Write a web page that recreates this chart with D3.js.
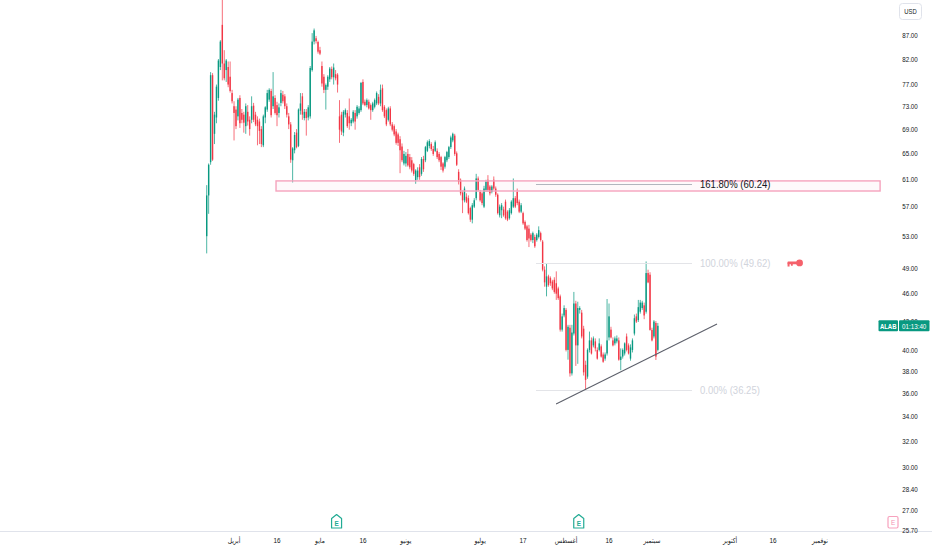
<!DOCTYPE html>
<html><head><meta charset="utf-8">
<script src="https://cdn.jsdelivr.net/npm/d3@7/dist/d3.min.js"></script>
<style>
html,body{margin:0;padding:0;background:#fff;}
svg{display:block;}
</style></head><body>
<svg id="c" width="932" height="550"></svg>
<script>
// ALAB 4h candles, [open, high, low, close]; two bars per trading day
const marchBars = [
[53.0,60.1,50.8,58.6],[58.6,63.4,56.0,63.2],[63.6,79.4,63.2,78.8],[78.8,79.2,63.8,64.0],
[68.2,72.0,66.5,71.5],[71.0,77.0,70.0,76.6],[74.5,82.0,74.0,81.7],[80.4,85.9,79.8,85.6],
[89.2,95.2,77.8,81.1],[81.1,83.8,77.8,78.2],[79.8,82.0,77.5,81.7],[80.4,81.5,76.5,77.0],
[78.5,81.5,75.5,75.8],[75.4,76.0,73.5,73.9]];
const aprilBars = [
[73.0,73.9,67.1,71.8],[72.4,73.0,69.0,69.5],[71.2,74.5,70.5,74.2],[74.5,75.0,69.2,70.0],
[71.8,72.5,70.0,70.6],[71.5,72.0,68.4,70.1],[69.5,73.5,68.2,73.0],[72.0,73.2,69.6,70.3],
[70.6,71.2,67.9,69.0],[70.6,74.8,70.0,73.0],[73.1,73.6,70.2,70.6],[71.5,72.0,69.5,69.8],
[70.6,71.2,66.3,69.5],[70.3,70.8,66.5,68.7],[69.0,69.5,66.0,66.5],[66.3,71.5,66.0,71.2],
[71.0,73.0,70.0,72.8],[72.4,76.0,72.0,75.4],[74.2,76.3,73.8,76.0],[75.8,76.2,71.0,71.4],
[73.0,79.4,72.5,74.8],[74.5,75.0,71.5,71.8],[73.2,73.8,69.5,71.4],[71.8,73.5,71.0,72.8],
[73.6,76.0,73.0,75.4],[75.1,75.8,73.5,73.9],[74.8,75.2,72.5,73.0],[73.0,73.5,71.0,71.5],
[71.2,71.8,69.0,69.8],[69.8,70.2,63.5,64.0],[63.9,66.0,60.5,65.8],[65.5,68.5,65.0,68.0],
[68.4,69.0,65.8,66.0],[66.2,72.6,66.0,72.4],[72.2,75.4,71.5,73.5],[74.8,75.4,70.6,71.5],
[70.9,72.5,70.5,72.0],[72.0,72.5,67.9,70.9],[71.0,73.2,70.5,72.8],[71.2,80.6,70.8,80.2],
[79.8,87.4,79.5,85.6],[85.6,88.4,85.0,88.0],[86.3,86.8,85.2,85.7],[85.5,85.8,83.1,83.5]];
const mayBars = [
[83.8,84.5,82.8,83.1],[80.6,81.5,76.6,77.2],[78.5,79.0,75.4,76.0],[76.0,77.2,72.4,76.9],
[76.6,78.8,76.0,78.5],[78.0,80.4,77.5,80.1],[80.0,80.5,78.0,78.4],[78.4,81.1,77.0,80.3],
[79.0,79.8,77.8,78.2],[78.9,79.2,75.5,77.0],[71.2,74.1,66.7,68.9],[71.5,72.0,68.0,68.6],
[68.4,72.3,67.8,72.0],[71.5,72.6,71.0,72.3],[71.8,72.3,69.2,69.5],[71.2,74.4,68.9,70.0],
[70.0,70.9,69.5,70.6],[70.3,72.3,70.0,72.0],[71.8,72.3,68.9,70.3],[71.2,73.2,70.8,72.9],
[71.8,73.0,71.5,72.6],[72.3,77.5,72.0,77.3],[77.5,78.0,73.2,73.5],[73.8,74.2,73.0,73.2],
[73.2,74.4,72.8,74.1],[73.8,74.2,72.4,72.6],[73.2,73.5,70.6,72.3],[72.3,73.8,72.0,73.5],
[72.9,74.4,72.6,74.1],[73.5,75.7,73.2,75.4],[74.7,75.2,73.2,73.5],[73.5,77.0,73.0,76.0],
[76.3,77.0,72.0,72.3],[72.9,73.2,70.9,71.2],[72.3,72.6,69.5,69.8],[70.6,72.9,70.3,72.6],
[72.6,73.0,69.5,69.8],[69.8,70.2,68.6,68.9],[69.5,69.8,67.8,68.1],[68.6,69.0,66.4,66.7],
[68.1,68.4,66.2,66.7],[67.3,67.8,61.9,65.5],[66.1,66.6,63.6,63.9],[63.4,65.4,63.1,64.9]];
const juneBars = [
[63.4,65.2,62.9,64.6],[64.9,65.7,62.9,63.1],[64.4,64.9,62.5,62.8],[63.9,64.4,62.0,62.3],
[63.3,63.5,61.5,61.8],[60.8,62.5,60.3,62.3],[61.3,62.8,60.9,62.3],[62.8,63.3,60.9,61.3],
[61.8,64.4,61.5,64.1],[64.1,64.6,62.1,62.5],[63.9,66.2,63.6,66.0],[65.4,67.1,65.2,66.8],
[66.2,67.3,65.8,67.0],[66.5,66.8,65.4,65.7],[65.7,66.2,64.6,64.9],[65.4,67.1,65.2,66.8],
[65.4,65.8,64.1,64.4],[64.9,65.2,63.6,63.9],[64.4,64.6,62.4,62.9],[63.4,63.6,62.0,62.3],
[62.9,64.6,62.6,64.4],[63.9,65.4,63.6,65.2],[64.4,66.2,64.1,66.0],[66.0,67.9,65.7,67.6],
[67.1,68.4,66.8,68.2],[67.9,68.2,64.6,64.9],[65.0,65.3,63.0,63.2],[62.1,62.5,60.2,60.6],
[60.9,61.1,58.6,58.9],[59.0,59.3,56.1,57.9],[57.9,59.9,57.6,59.6],[58.4,58.9,57.5,57.7],
[58.2,58.6,55.9,56.1],[56.8,57.0,54.9,55.2],[55.2,57.5,54.7,57.2],[57.0,58.2,56.8,57.9],
[58.2,61.8,57.9,61.1],[61.1,61.4,59.2,59.4]];
const julyBars = [
[59.1,59.4,57.7,57.9],[58.9,59.1,57.2,57.5],[57.0,60.0,56.8,59.6],[59.4,60.9,59.1,60.6],
[60.9,61.6,59.1,59.4],[59.9,60.1,58.6,58.9],[59.1,60.1,58.9,59.9],[60.9,61.4,59.4,59.6],
[59.6,59.9,58.4,58.7],[58.7,58.9,55.9,56.1],[55.8,57.3,55.5,57.0],[56.5,57.5,55.4,57.2],
[56.6,57.0,55.6,55.8],[57.7,58.0,55.2,55.4],[56.3,56.5,55.0,55.2],[55.4,56.8,55.2,56.5],
[56.1,57.9,55.9,57.7],[57.0,61.1,56.8,58.2],[58.2,58.5,56.8,57.0],[59.1,59.6,57.2,57.5],
[57.7,58.0,56.1,56.3],[56.3,57.5,56.1,57.2],[56.1,56.3,54.5,54.7],[54.9,55.1,53.8,54.0],
[54.3,54.5,52.3,52.5],[54.0,54.5,51.6,52.7],[53.2,53.4,52.3,52.5],[52.5,53.6,52.1,53.4],
[52.9,53.2,51.5,51.7],[52.5,53.4,52.3,53.2],[52.9,54.3,52.7,53.8],[53.4,53.6,52.3,52.5],
[52.3,52.5,48.6,48.8],[48.8,49.2,46.8,47.3],[46.8,49.6,45.7,48.0],[48.0,48.2,46.8,47.0],
[47.8,48.0,46.9,47.2],[47.4,47.6,46.4,46.6],[47.6,47.9,46.0,46.2],[47.2,48.6,45.3,46.0],
[46.6,46.8,45.3,45.5],[45.7,45.9,41.9,42.1],[42.1,43.8,41.9,43.5],[43.6,44.7,43.4,44.4]];
const augustBars = [
[44.2,44.4,39.9,40.05],[40.05,42.6,39.1,42.4],[42.3,42.6,37.5,37.8],[37.8,42.6,37.6,41.8],
[41.7,46.2,41.5,44.9],[44.9,45.2,38.5,40.5],[40.5,45.1,38.7,44.4],[44.2,44.6,43.8,44.4],
[43.9,44.2,41.2,41.4],[42.2,42.5,37.6,37.9],[38.6,39.0,36.25,37.2],[37.5,40.2,37.3,40.05],
[40.05,41.9,39.8,41.0],[41.0,41.3,39.6,39.7],[40.5,41.4,40.3,41.2],[40.9,41.2,39.9,40.2],
[40.05,40.3,39.1,39.2],[40.05,41.2,39.9,40.7],[40.4,40.6,39.3,39.4],[39.6,39.8,38.8,38.9],
[39.2,39.8,39.0,39.6],[39.7,45.4,39.5,41.0],[41.3,44.9,41.0,43.5],[42.1,42.4,41.2,41.3],
[41.0,41.3,40.4,40.5],[40.7,41.4,40.5,41.2],[40.9,41.5,40.7,41.2],[41.0,41.3,39.0,39.1],
[39.07,40.2,38.1,39.4],[39.4,40.2,39.2,40.05],[39.7,40.8,39.5,40.7],[41.4,41.7,39.9,40.05],
[40.5,40.7,39.6,39.7],[39.2,40.6,39.0,40.3],[40.05,41.2,39.8,41.0],[41.7,43.7,41.5,43.3],
[43.5,43.8,42.8,42.95],[43.1,45.3,42.9,44.5],[44.0,45.3,43.8,45.0],[44.4,45.2,44.2,45.0],
[44.7,45.0,43.2,43.6],[44.0,49.8,43.8,48.4],[48.4,48.8,47.2,47.3],[48.2,48.5,42.0,42.07]];
const septemberBars = [
[42.07,42.3,40.9,41.0],[41.4,43.1,41.2,42.95],[42.8,43.0,39.07,39.4],[40.05,42.8,39.9,42.5]];

const priceTicks = [87,82,77,73,69,65,61,57,53,49,46,43,40,38,36,34,32,30,28.4,27,25.7];
const timeTickBars = [14,36,58,80,102,140,162,184,206,228,268,290,314];
const timeTickLabels = ['أبريل','16','مايو','16','يونيو','يوليو','17','أغسطس','16','سبتمبر','أكتوبر','16','نوفمبر'];
const earningsBars = [66.5,190.5];

const fibRatios = ['161.80%','100.00%','0.00%'];
const fibPrices = [60.24,49.62,36.25];
const fibBars = [168.6,248.5];
const boxBars = [35.5,344.8];
const boxPrices = [60.73,59.24];
const trendBars = [178.9,261.3];
const trendPrices = [35.06,42.69];
const symbol = 'ALAB';
const countdown = '01:13:40';
const currency = 'USD';

const bars = [].concat(marchBars,aprilBars,mayBars,juneBars,julyBars,augustBars,septemberBars);

const W = 932, H = 550, plotR = 890, plotB = 531;
const svg = d3.select('#c');
const x = d3.scaleLinear().domain([0,231]).range([206.7,206.7+231*1.953]);
const y = d3.scaleLog().domain([87,25.7]).range([35,530]);

const UP = '#089981', DN = '#f23645';
const sans = "'Liberation Sans','DejaVu Sans',sans-serif";

// text helper with horizontal condensing
function label(parent, tx, ty, str, opt){
  const o = Object.assign({size:8, anchor:'middle', fill:'#131722', weight:'normal', sx:1, family:sans}, opt||{});
  return parent.append('text')
    .attr('transform',`translate(${tx},${ty}) scale(${o.sx},1)`)
    .attr('text-anchor',o.anchor).attr('font-family',o.family)
    .attr('font-size',o.size).attr('font-weight',o.weight).attr('fill',o.fill).text(str);
}

svg.append('defs').append('clipPath').attr('id','plot')
  .append('rect').attr('x',0).attr('y',0).attr('width',plotR).attr('height',plotB);

const g = svg.append('g').attr('clip-path','url(#plot)');

// candles
const cg = g.append('g');
bars.forEach((b,i)=>{
  const [o,h,l,c] = b;
  const col = c>=o ? UP : DN;
  cg.append('line').attr('x1',x(i)).attr('x2',x(i)).attr('y1',y(h)).attr('y2',y(l))
    .attr('stroke',col).attr('stroke-width',0.9).attr('stroke-opacity',0.8);
  const top = y(Math.max(o,c)), bot = y(Math.min(o,c));
  cg.append('rect').attr('x',x(i)-0.7).attr('width',1.4)
    .attr('y',top).attr('height',Math.max(1,bot-top)).attr('fill',col);
});

// rectangle zone
g.append('rect')
  .attr('x',x(boxBars[0])).attr('width',x(boxBars[1])-x(boxBars[0]))
  .attr('y',y(boxPrices[0])).attr('height',y(boxPrices[1])-y(boxPrices[0]))
  .attr('fill','rgba(245,130,170,0.05)').attr('stroke','#f5a3bd').attr('stroke-width',1.4);

// fib levels
const fibLine = ['#b2b5be','#e3e4e8','#e3e4e8'];
const fibText = ['#131722','#d1d4dc','#d1d4dc'];
fibPrices.forEach((p,k)=>{
  g.append('line').attr('x1',x(fibBars[0])).attr('x2',x(fibBars[1]))
    .attr('y1',Math.round(y(p))+0.5).attr('y2',Math.round(y(p))+0.5)
    .attr('stroke',fibLine[k]).attr('stroke-width',1);
  label(g, x(fibBars[1])+8, y(p)+4, fibRatios[k]+' ('+p.toFixed(2)+')',
    {size:11.5, anchor:'start', fill:fibText[k], sx:0.83});
});

// trend line
g.append('line').attr('x1',x(trendBars[0])).attr('y1',y(trendPrices[0]))
  .attr('x2',x(trendBars[1])).attr('y2',y(trendPrices[1]))
  .attr('stroke','#5d606b').attr('stroke-width',1.1);

// key icon at the 100% level
const kx = x(301), ky = y(fibPrices[1]);
const key = g.append('g').attr('fill','#f5616b');
key.append('circle').attr('cx',kx+5).attr('cy',ky).attr('r',3.4);
key.append('rect').attr('x',kx-7).attr('y',ky-1.4).attr('width',12).attr('height',2.8).attr('rx',0.6);
key.append('rect').attr('x',kx-7).attr('y',ky).attr('width',2).attr('height',3.6);
key.append('rect').attr('x',kx-3.6).attr('y',ky).attr('width',1.8).attr('height',2.8);

// x axis line
svg.append('line').attr('x1',0).attr('x2',W).attr('y1',plotB+0.5).attr('y2',plotB+0.5)
  .attr('stroke','#e0e3eb').attr('stroke-width',1);

// earnings markers
earningsBars.forEach(b=>{
  const cx = x(b);
  svg.append('path')
    .attr('d',`M${cx-5},528 L${cx-5},518.5 L${cx},514.5 L${cx+5},518.5 L${cx+5},528 Z`)
    .attr('fill','#fff').attr('stroke','#22ab94').attr('stroke-width',1.2).attr('stroke-linejoin','round');
  label(svg, cx, 525.5, 'E', {size:7.5, weight:'bold', fill:'#22ab94', sx:0.85});
});
// future earnings marker at the right edge
svg.append('rect').attr('x',888).attr('y',516.5).attr('width',10).attr('height',11.5).attr('rx',1.5)
  .attr('fill','#fff').attr('stroke','#f7a1bd').attr('stroke-width',1.2);
label(svg, 893, 525.3, 'E', {size:7.5, fill:'#f48fb1', sx:0.85});

// time axis labels
timeTickBars.forEach((b,k)=>{
  const lab = timeTickLabels[k];
  const ar = /[\u0600-\u06FF]/.test(lab);
  label(svg, x(b), 543, lab, ar ? {size:7, family:"'DejaVu Sans',sans-serif", sx:0.85} : {size:7.8, sx:0.82});
});

// price axis labels
priceTicks.forEach(p=>{
  label(svg, 910, y(p)+2.8, p.toFixed(2), {size:8, sx:0.78});
});

// currency box
svg.append('rect').attr('x',899.5).attr('y',3.5).attr('width',22).attr('height',16).attr('rx',3)
  .attr('fill','#fff').attr('stroke','#e0e3eb');
label(svg, 910.5, 14.3, currency, {size:7.2, sx:0.82});

// last price label
const last = bars[bars.length-1][3];
const ly = y(last);
svg.append('rect').attr('x',878.5).attr('y',ly-5.5).attr('width',19.5).attr('height',11).attr('rx',1).attr('fill',UP);
svg.append('rect').attr('x',899).attr('y',ly-5.5).attr('width',30.5).attr('height',11).attr('rx',1).attr('fill',UP);
label(svg, 888.2, ly+2.8, symbol, {size:7.5, weight:'bold', fill:'#fff', sx:0.8});
label(svg, 914.2, ly+2.8, countdown, {size:7.8, fill:'#fff', sx:0.8});
</script>
</body></html>
